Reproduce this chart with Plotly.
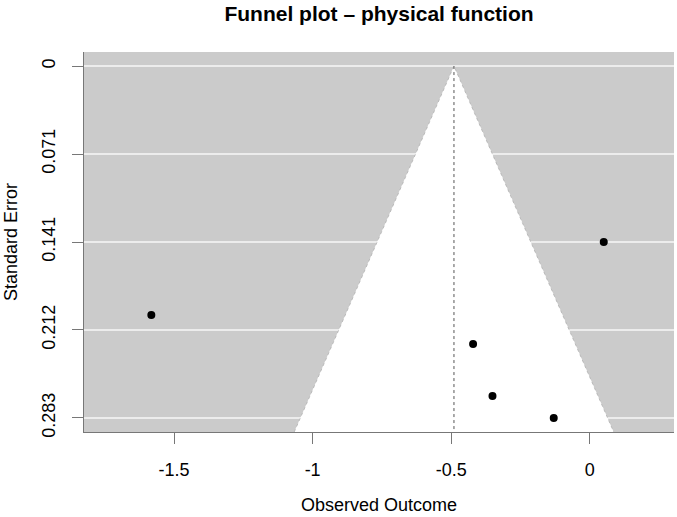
import plotly.graph_objects as go

# ---- data ----
yi = [-1.582, 0.0505, -0.421, -0.351, -0.130]      # observed outcomes
sei = [0.2001, 0.1414, 0.2234, 0.2652, 0.2828]     # standard errors
center_est = -0.49                                 # pooled estimate
x_tick_vals = [-1.5, -1, -0.5, 0]
x_tick_text = ["-1.5", "-1", "-0.5", "0"]
y_tick_vals = [0, 0.0707, 0.1414, 0.2121, 0.2828]
y_tick_text = ["0", "0.071", "0.141", "0.212", "0.283"]

x_range = [-1.825, 0.304]
y_bottom = 0.2941
y_top = -0.0113

FONT = "Liberation Sans, Arial, sans-serif"

fig = go.Figure()

# white funnel region
fig.add_trace(go.Scatter(
    x=[center_est - 1.96 * y_bottom, center_est, center_est + 1.96 * y_bottom],
    y=[y_bottom, 0, y_bottom],
    fill="toself", fillcolor="white", mode="lines",
    line=dict(color="#aaaaaa", width=0.7, dash="dot"),
    hoverinfo="skip", showlegend=False))

# vertical dotted line at estimate
fig.add_trace(go.Scatter(
    x=[center_est, center_est], y=[0, y_bottom], mode="lines",
    line=dict(color="#555555", width=1, dash="dot"),
    hoverinfo="skip", showlegend=False))

# study points
fig.add_trace(go.Scatter(
    x=yi, y=sei, mode="markers",
    marker=dict(color="black", size=8),
    showlegend=False))

fig.update_layout(
    width=677, height=517,
    margin=dict(l=84, r=3, t=52, b=85),
    paper_bgcolor="white",
    plot_bgcolor="#cbcbcb",
    font=dict(family=FONT, size=18, color="black"),
    title=dict(text="<b>Funnel plot – physical function</b>",
               x=379 / 677, xanchor="center", xref="container",
               y=1 - 14 / 517, yanchor="middle", yref="container",
               font=dict(family=FONT, size=21, color="black")),
    xaxis=dict(range=x_range, tickvals=x_tick_vals, ticktext=x_tick_text,
               showgrid=False, zeroline=False,
               ticks="outside", ticklen=11, tickcolor="#777777",
               showline=True, linecolor="#777777", linewidth=1,
               ticklabelstandoff=10,
               tickfont=dict(size=18)),
    yaxis=dict(range=[y_bottom, y_top], tickvals=y_tick_vals, ticktext=y_tick_text,
               showgrid=True, gridcolor="#ececec", gridwidth=1.5,
               zeroline=False,
               ticks="outside", ticklen=11, tickcolor="#777777",
               showline=True, linecolor="#777777", linewidth=1,
               tickangle=-90, ticklabelstandoff=10,
               tickfont=dict(size=18)),
    annotations=[
        dict(text="Observed Outcome", xref="paper", yref="paper",
             x=0.5, y=-(505 - 432) / 380, xanchor="center", yanchor="middle",
             showarrow=False, font=dict(size=18)),
        dict(text="Standard Error", xref="paper", yref="paper",
             x=-(84 - 11) / 590, y=0.5, xanchor="center", yanchor="middle",
             textangle=-90, showarrow=False, font=dict(size=18)),
    ],
)

fig.write_html("out.html")
